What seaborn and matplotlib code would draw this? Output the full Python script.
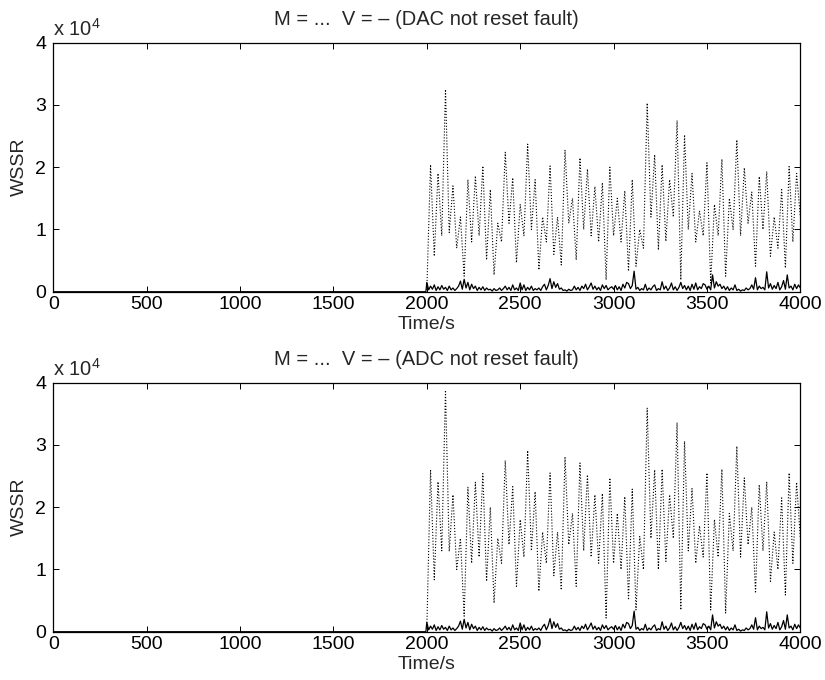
import numpy as np
import matplotlib
matplotlib.use("Agg")
import matplotlib.pyplot as plt
import seaborn as sns

# --- data ---
# M (dotted) sampled every 20 s from 2000 s to 4000 s
t_m = np.arange(2000, 4001, 20)
m_dac = [300, 20400, 5700, 19000, 9000, 32500, 9500, 17000, 7000, 12000,
         2500, 18000, 8000, 18600, 9000, 20200, 5100, 16400, 2700, 11000,
         8000, 22400, 11000, 18300, 4650, 14000, 9000, 23700, 10000, 18000,
         3500, 12000, 8000, 20200, 6000, 12000, 4300, 22800, 11000, 15000,
         5100, 21500, 10000, 19700, 9000, 16900, 8000, 17500, 1900, 20000,
         9000, 15000, 8000, 16200, 3300, 18000, 4100, 10000, 7000, 30300,
         12000, 22000, 6700, 20400, 8100, 18000, 12000, 27500, 1900, 25200,
         10000, 19000, 8000, 13000, 9000, 20700, 1400, 14000, 9000, 21300,
         2500, 15000, 10000, 24400, 9000, 19900, 11000, 16000, 4100, 18500,
         10000, 19300, 5700, 12000, 7000, 16400, 3800, 20100, 8000, 19000,
         12000]
m_adc = [500, 26000, 8350, 24100, 13000, 38800, 12900, 22000, 10000, 15000,
         2500, 23200, 11000, 24000, 12000, 25400, 8100, 20000, 4600, 15000,
         11000, 27500, 14000, 23300, 7300, 18000, 12000, 29100, 13000, 22500,
         6500, 16000, 11000, 25500, 9000, 16000, 6700, 28100, 14000, 19000,
         7300, 27100, 13000, 25200, 12000, 22000, 11000, 22200, 2200, 24700,
         11000, 19000, 10000, 21700, 5100, 22900, 3500, 15300, 10000, 35900,
         15000, 26000, 10000, 26100, 11300, 22000, 15000, 33600, 3500, 30600,
         13000, 23000, 11000, 17000, 12000, 25500, 3500, 18000, 12000, 26100,
         3000, 19000, 13000, 29800, 12000, 24700, 14000, 20000, 6200, 23600,
         13000, 24100, 8100, 16000, 10000, 21500, 5900, 25500, 11000, 24000,
         15000]

# V (solid) sampled every 10 s from 2000 s to 4000 s, zero before
t_pre = [0, 1995]
v_pre = [0, 0]
t_v = np.arange(2000, 4001, 10)
v_vals = [1500, 300, 900, 400, 1100, 200, 800, 300, 1000, 400,
          700, 200, 900, 300, 600, 200, 500, 900, 1700, 400,
          2000, 600, 1500, 300, 1200, 500, 900, 200, 700, 300,
          800, 200, 600, 300, 400, 100, 500, 200, 300, 600,
          200, 500, 900, 300, 700, 200, 1100, 300, 600, 200,
          1400, 300, 1100, 200, 700, 300, 900, 200, 500, 300,
          600, 200, 800, 1200, 300, 1000, 2100, 500, 1600, 700,
          1300, 400, 600, 200, 300, 100, 400, 200, 300, 900,
          300, 700, 200, 900, 500, 1200, 300, 800, 1400, 400,
          900, 300, 700, 200, 1100, 500, 1000, 300, 600, 800,
          400, 1000, 300, 800, 200, 1200, 600, 1500, 1300, 500,
          1000, 3300, 400, 700, 200, 500, 300, 1200, 200, 600,
          300, 800, 1100, 200, 500, 300, 1600, 400, 900, 200,
          600, 1400, 300, 800, 200, 700, 1500, 500, 1000, 300,
          900, 200, 1200, 400, 1400, 300, 800, 500, 1300, 1100,
          400, 900, 300, 2700, 600, 1600, 900, 1200, 500, 900,
          300, 800, 200, 600, 300, 1100, 200, 400, 100, 300,
          200, 600, 300, 500, 1100, 400, 2250, 300, 900, 500,
          700, 300, 3200, 600, 1300, 400, 1000, 500, 1500, 300,
          800, 1800, 400, 2700, 600, 900, 300, 1200, 500, 1100,
          600]

titles = ["M = ...  V = \u2013 (DAC not reset fault)",
          "M = ...  V = \u2013 (ADC not reset fault)"]
x_ticks = [0, 500, 1000, 1500, 2000, 2500, 3000, 3500, 4000]
y_ticks = [0, 10000, 20000, 30000, 40000]
y_tick_labels = ["0", "1", "2", "3", "4"]

# --- style ---
sns.set_theme(style="ticks", rc={
    "xtick.direction": "in", "ytick.direction": "in",
    "xtick.top": True, "ytick.right": True,
    "xtick.major.size": 4.5, "ytick.major.size": 4.5,
    "xtick.major.width": 0.7, "ytick.major.width": 0.7,
    "axes.linewidth": 0.9, "axes.edgecolor": "black",
    "mathtext.default": "regular",
})
plt.rcParams["font.family"] = ["Liberation Sans", "DejaVu Sans"]

fig = plt.figure(figsize=(8.25, 6.8), dpi=100)
ax_top = fig.add_axes([0.0646, 0.5710, 0.9055, 0.3662])
ax_bot = fig.add_axes([0.0646, 0.0710, 0.9055, 0.3662])

tv_full = np.concatenate([t_pre, t_v])
vv_full = np.concatenate([v_pre, v_vals])
for ax, m_vals, title in [(ax_top, m_dac, titles[0]), (ax_bot, m_adc, titles[1])]:
    sns.lineplot(x=t_m, y=m_vals, ax=ax, color="black", linestyle=":",
                 linewidth=0.8, estimator=None, sort=False)
    sns.lineplot(x=tv_full, y=vv_full, ax=ax,
                 color="black", linewidth=0.9, estimator=None, sort=False)
    ax.set_xlim(0, 4000)
    ax.set_ylim(0, 40000)
    ax.set_xticks(x_ticks)
    ax.set_xticklabels([str(x) for x in x_ticks], fontsize=14)
    ax.set_yticks(y_ticks)
    ax.set_yticklabels(y_tick_labels, fontsize=14)
    ax.tick_params(axis="x", pad=3, colors="black")
    ax.tick_params(axis="y", pad=5, colors="black")
    ax.set_xlabel("Time/s", fontsize=14, labelpad=2)
    ax.set_ylabel("WSSR", fontsize=14, labelpad=5)
    ax.text(0.5, 1.055, title, transform=ax.transAxes, ha="center",
            va="bottom", fontsize=14.5)
    ax.text(0.0, 1.01, "x 10$^{4}$", transform=ax.transAxes, ha="left",
            va="bottom", fontsize=14.5)

fig.savefig("out.png", dpi=100)
